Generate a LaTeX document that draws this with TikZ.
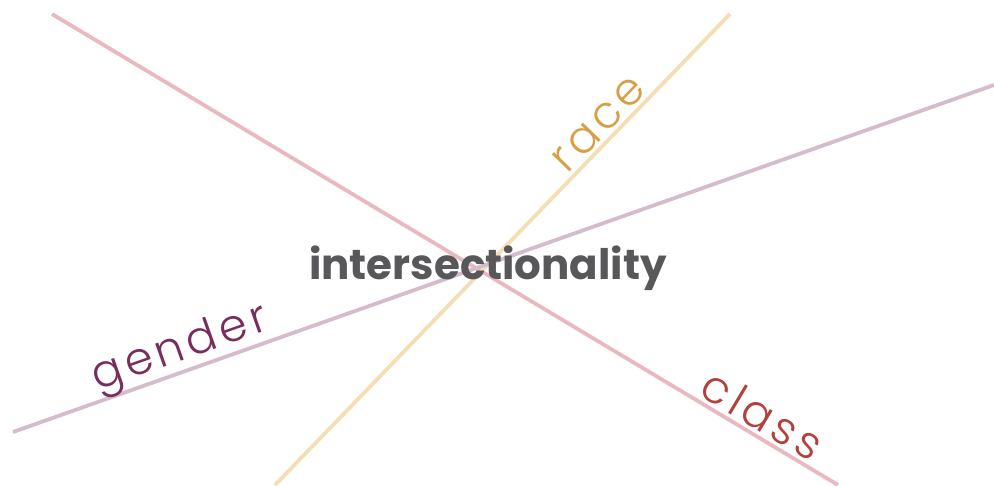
\documentclass[tikz,border=0pt]{standalone}
\usepackage{fontspec}
\setmainfont{Poppins}
\newfontfamily\lightfont{Poppins}[UprightFont=* Light, LetterSpace=10]
\usetikzlibrary{positioning}
\definecolor{classline}{RGB}{234,184,192}
\definecolor{raceline}{RGB}{244,222,180}
\definecolor{genderline}{RGB}{212,188,204}
\definecolor{classtext}{RGB}{178,64,60}
\definecolor{racetext}{RGB}{214,160,70}
\definecolor{gendertext}{RGB}{120,45,90}
\definecolor{maintext}{RGB}{88,88,90}
\tikzset{
  axis/.style   ={line width=3.8pt, line cap=butt},
  lbl/.style    ={font=\lightfont\fontsize{45}{45}\selectfont, inner sep=0pt, sloped, above},
  hub/.style    ={font=\bfseries\fontsize{42}{42}\selectfont, text=maintext, inner sep=0pt},
}
\begin{document}
\begin{tikzpicture}[x=1pt, y=-1pt]
  \useasboundingbox (0,0) rectangle (994,485);
  \coordinate (c1) at (52,14);
  \coordinate (c2) at (838,485);
  \coordinate (r1) at (275,485);
  \coordinate (r2) at (730,14);
  \coordinate (g1) at (13,432);
  \coordinate (g2) at (994,85);

  \draw[axis, classline]  (c1) -- (c2) node[lbl, pos=0.89, yshift=3pt, text=classtext]  (class)  {class};
  \draw[axis, raceline]   (r1) -- (r2) node[lbl, pos=0.74, yshift=3pt, text=racetext]   (race)   {race};
  \draw[axis, genderline] (g1) -- (g2) node[lbl, pos=0.178, yshift=-3pt, text=gendertext] (gender) {gender};

  \node[hub] (hub) at (488,268) {intersectionality};
\end{tikzpicture}
\end{document}
